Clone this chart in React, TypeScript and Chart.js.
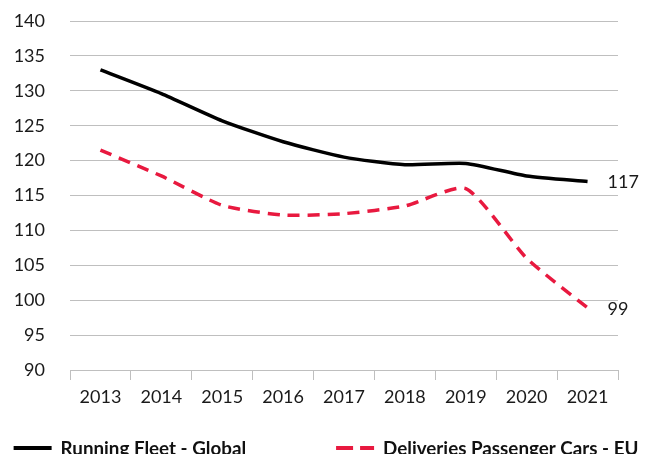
import React, { useEffect, useRef } from "react";
import { Chart, registerables } from "chart.js";

Chart.register(...registerables);

const years = ["2013", "2014", "2015", "2016", "2017", "2018", "2019", "2020", "2021"];
const runningFleet = [133.0, 129.6, 125.7, 122.7, 120.5, 119.4, 119.6, 117.8, 117.0];
const deliveries = [121.5, 117.8, 113.6, 112.2, 112.4, 113.5, 116.0, 106.0, 98.9];
const endLabels = ["117", "99"];
const seriesNames = ["Running Fleet - Global", "Deliveries Passenger Cars - EU"];

const FONT = "Lato, 'Open Sans', sans-serif";

const endLabelPlugin = {
  id: "endLabels",
  afterDatasetsDraw(chart: any) {
    const ctx = chart.ctx;
    ctx.save();
    ctx.font = `18px ${FONT}`;
    ctx.fillStyle = "#1a1a1a";
    ctx.textAlign = "left";
    ctx.textBaseline = "middle";
    chart.data.datasets.forEach((_: any, i: number) => {
      const meta = chart.getDatasetMeta(i);
      const pt = meta.data[meta.data.length - 1];
      if (pt) ctx.fillText(endLabels[i], pt.x + 20, pt.y + 1);
    });
    ctx.restore();
  },
};

// Bottom legend drawn from the datasets' own styles
const bottomLegendPlugin = {
  id: "bottomLegend",
  afterDraw(chart: any) {
    const ctx = chart.ctx;
    const y = 448;
    const lineW = 38;
    const textGap = 9;
    const itemGap = 90;
    ctx.save();
    ctx.font = `bold 18.8px ${FONT}`;
    const widths = chart.data.datasets.map((ds: any) => ctx.measureText(ds.label).width);
    const total = widths.reduce((a: number, w: number) => a + lineW + textGap + w, 0) + itemGap * (widths.length - 1);
    let x = (chart.width - total) / 2;
    chart.data.datasets.forEach((ds: any, i: number) => {
      ctx.beginPath();
      ctx.strokeStyle = ds.borderColor;
      ctx.lineWidth = 4;
      ctx.setLineDash(ds.borderDash ? [17, 7] : []);
      ctx.moveTo(x, y);
      ctx.lineTo(x + lineW, y);
      ctx.stroke();
      ctx.setLineDash([]);
      ctx.fillStyle = "#111111";
      ctx.textAlign = "left";
      ctx.textBaseline = "middle";
      ctx.fillText(ds.label, x + lineW + textGap, y + 1);
      x += lineW + textGap + widths[i] + itemGap;
    });
    ctx.restore();
  },
};

export default function App() {
  const ref = useRef<HTMLCanvasElement | null>(null);
  useEffect(() => {
    if (!ref.current) return;
    const chart = new Chart(ref.current, {
      type: "line",
      data: {
        labels: years,
        datasets: [
          {
            label: seriesNames[0],
            data: runningFleet,
            borderColor: "#000000",
            backgroundColor: "#000000",
            borderWidth: 3.5,
            pointRadius: 0,
            tension: 0.2,
            fill: false,
          },
          {
            label: seriesNames[1],
            data: deliveries,
            borderColor: "#e8193f",
            backgroundColor: "#e8193f",
            borderWidth: 3.5,
            borderDash: [12, 8],
            pointRadius: 0,
            tension: 0.2,
            fill: false,
          },
        ],
      },
      options: {
        animation: false,
        responsive: false,
        maintainAspectRatio: false,
        layout: { padding: { top: 21, right: 34, left: 0, bottom: 40 } },
        plugins: {
          tooltip: { enabled: false },
          legend: { display: false },
        },
        scales: {
          x: {
            offset: true,
            grid: {
              offset: true,
              drawOnChartArea: false,
              drawTicks: true,
              tickLength: 10,
              color: "#bfbfbf",
            },
            border: { display: true, color: "#bfbfbf", width: 1 },
            ticks: {
              color: "#1a1a1a",
              font: { family: FONT, size: 18 },
              padding: 6,
              maxRotation: 0,
              autoSkip: false,
            },
            afterFit(scale: any) {
              scale.height = 44;
            },
          },
          y: {
            min: 90,
            max: 140,
            ticks: {
              stepSize: 5,
              autoSkip: false,
              color: "#1a1a1a",
              font: { family: FONT, size: 18 },
              padding: 4,
            },
            grid: {
              color: "#bfbfbf",
              drawTicks: true,
              tickLength: 21,
              tickColor: "rgba(0,0,0,0)",
              lineWidth: 1,
            },
            border: { display: false },
            afterFit(scale: any) {
              scale.width = 70;
            },
          },
        },
      },
      plugins: [endLabelPlugin, bottomLegendPlugin],
    });
    return () => chart.destroy();
  }, []);
  return (
    <div style={{ position: "fixed", left: 0, top: 0, width: 652, height: 454, background: "#fff" }}>
      <canvas ref={ref} width={652} height={454} style={{ width: 652, height: 454 }} />
    </div>
  );
}
